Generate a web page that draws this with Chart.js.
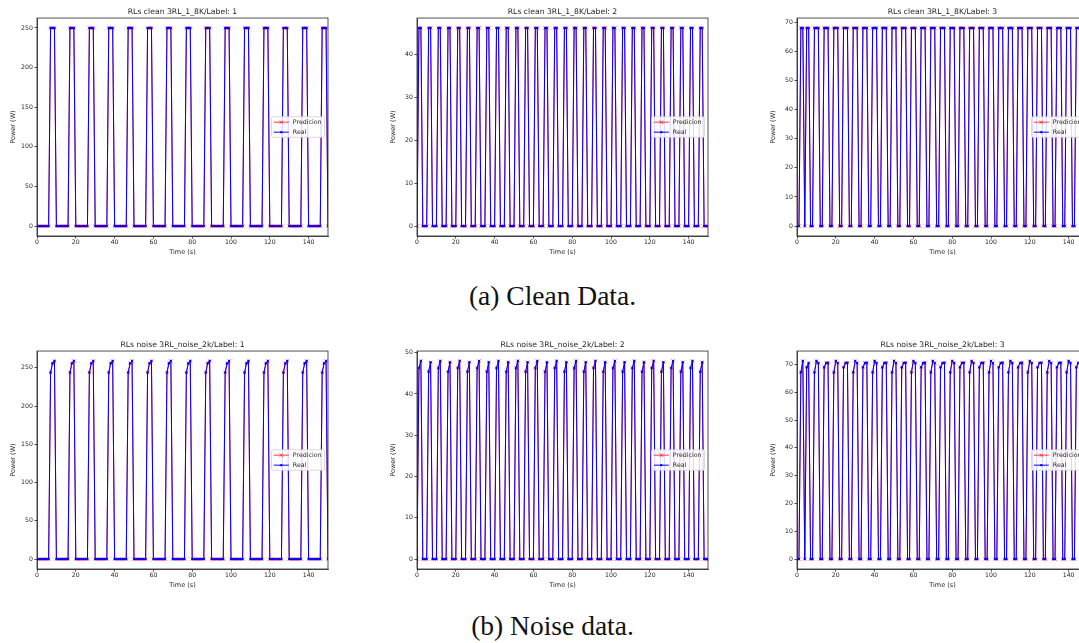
<!DOCTYPE html>
<html>
<head>
<meta charset="utf-8">
<script src="https://cdn.jsdelivr.net/npm/chart.js@4.4.1/dist/chart.umd.min.js"></script>
<style>
  html, body { margin: 0; padding: 0; background: #fff; width: 1079px; height: 643px; overflow: hidden; position: relative; }
  canvas { position: absolute; }
  .cap { position: absolute; left: 13px; width: 1079px; text-align: center;
         font-family: "Liberation Serif", "Times New Roman", serif; font-size: 27.5px; color: #111; }
</style>
</head>
<body>
<canvas id="cleanL1"></canvas>
<canvas id="cleanL2"></canvas>
<canvas id="cleanL3"></canvas>
<canvas id="noiseL1"></canvas>
<canvas id="noiseL2"></canvas>
<canvas id="noiseL3"></canvas>
<div class="cap" style="top:280px">(a) Clean Data.</div>
<div class="cap" style="top:610px">(b) Noise data.</div>
<script>
// ---- data (1 s sampling) ----
const timeS = [
  0,1,2,3,4,5,6,7,8,9, 10,11,12,13,14,15,16,17,18,19,
  20,21,22,23,24,25,26,27,28,29, 30,31,32,33,34,35,36,37,38,39,
  40,41,42,43,44,45,46,47,48,49, 50,51,52,53,54,55,56,57,58,59,
  60,61,62,63,64,65,66,67,68,69, 70,71,72,73,74,75,76,77,78,79,
  80,81,82,83,84,85,86,87,88,89, 90,91,92,93,94,95,96,97,98,99,
  100,101,102,103,104,105,106,107,108,109, 110,111,112,113,114,115,116,117,118,119,
  120,121,122,123,124,125,126,127,128,129, 130,131,132,133,134,135,136,137,138,139,
  140,141,142,143,144,145,146,147,148,149, 150
];
const xTicks = [0, 20, 40, 60, 80, 100, 120, 140];
const yTicksL1 = [0, 50, 100, 150, 200, 250];
const yTicksL2Clean = [0, 10, 20, 30, 40];
const yTicksL2Noise = [0, 10, 20, 30, 40, 50];
const yTicksL3 = [0, 10, 20, 30, 40, 50, 60, 70];
const seriesNames = ['Predicion', 'Real'];

const cleanL1 = [
  0,0,0,0,0,0,0,250,250,250, 0,0,0,0,0,0,0,250,250,250,
  0,0,0,0,0,0,0,250,250,250, 0,0,0,0,0,0,0,250,250,250,
  0,0,0,0,0,0,0,250,250,250, 0,0,0,0,0,0,0,250,250,250,
  0,0,0,0,0,0,0,250,250,250, 0,0,0,0,0,0,0,250,250,250,
  0,0,0,0,0,0,0,250,250,250, 0,0,0,0,0,0,0,250,250,250,
  0,0,0,0,0,0,0,250,250,250, 0,0,0,0,0,0,0,250,250,250,
  0,0,0,0,0,0,0,250,250,250, 0,0,0,0,0,0,0,250,250,250,
  0,0,0,0,0,0,0,250,250,250, 0
];
const cleanL2 = [
  0,46.2,46.2,0,0,0,46.2,46.2,0,0, 0,46.2,46.2,0,0,0,46.2,46.2,0,0,
  0,46.2,46.2,0,0,0,46.2,46.2,0,0, 0,46.2,46.2,0,0,0,46.2,46.2,0,0,
  0,46.2,46.2,0,0,0,46.2,46.2,0,0, 0,46.2,46.2,0,0,0,46.2,46.2,0,0,
  0,46.2,46.2,0,0,0,46.2,46.2,0,0, 0,46.2,46.2,0,0,0,46.2,46.2,0,0,
  0,46.2,46.2,0,0,0,46.2,46.2,0,0, 0,46.2,46.2,0,0,0,46.2,46.2,0,0,
  0,46.2,46.2,0,0,0,46.2,46.2,0,0, 0,46.2,46.2,0,0,0,46.2,46.2,0,0,
  0,46.2,46.2,0,0,0,46.2,46.2,0,0, 0,46.2,46.2,0,0,0,46.2,46.2,0,0,
  0,46.2,46.2,0,0,0,46.2,46.2,0,0, 0
];
const cleanL3 = [
  0,0,68,68,0,68,68,0,0,68, 68,68,0,0,68,68,68,0,0,68,
  68,68,0,0,68,68,68,0,0,68, 68,68,0,0,68,68,68,0,0,68,
  68,68,0,0,68,68,68,0,0,68, 68,68,0,0,68,68,68,0,0,68,
  68,68,0,0,68,68,68,0,0,68, 68,68,0,0,68,68,68,0,0,68,
  68,68,0,0,68,68,68,0,0,68, 68,68,0,0,68,68,68,0,0,68,
  68,68,0,0,68,68,68,0,0,68, 68,68,0,0,68,68,68,0,0,68,
  68,68,0,0,68,68,68,0,0,68, 68,68,0,0,68,68,68,0,0,68,
  68,68,0,0,68,68,68,0,0,68, 0
];
const noiseL1 = [
  0,0,0,0,0,0,0,244,256,259, 0,0,0,0,0,0,0,244,256,259,
  0,0,0,0,0,0,0,244,256,259, 0,0,0,0,0,0,0,244,256,259,
  0,0,0,0,0,0,0,244,256,259, 0,0,0,0,0,0,0,244,256,259,
  0,0,0,0,0,0,0,244,256,259, 0,0,0,0,0,0,0,244,256,259,
  0,0,0,0,0,0,0,244,256,259, 0,0,0,0,0,0,0,244,256,259,
  0,0,0,0,0,0,0,244,256,259, 0,0,0,0,0,0,0,244,256,259,
  0,0,0,0,0,0,0,244,256,259, 0,0,0,0,0,0,0,244,256,259,
  0,0,0,0,0,0,0,244,256,259, 0
];
const noiseL2 = [
  0,46.3,48,0,0,0,45.4,47.7,0,0, 0,46.3,48,0,0,0,45.4,47.7,0,0,
  0,46.3,48,0,0,0,45.4,47.7,0,0, 0,46.3,48,0,0,0,45.4,47.7,0,0,
  0,46.3,48,0,0,0,45.4,47.7,0,0, 0,46.3,48,0,0,0,45.4,47.7,0,0,
  0,46.3,48,0,0,0,45.4,47.7,0,0, 0,46.3,48,0,0,0,45.4,47.7,0,0,
  0,46.3,48,0,0,0,45.4,47.7,0,0, 0,46.3,48,0,0,0,45.4,47.7,0,0,
  0,46.3,48,0,0,0,45.4,47.7,0,0, 0,46.3,48,0,0,0,45.4,47.7,0,0,
  0,46.3,48,0,0,0,45.4,47.7,0,0, 0,46.3,48,0,0,0,45.4,47.7,0,0,
  0,46.3,48,0,0,0,45.4,47.7,0,0, 0
];
const noiseL3 = [
  0,0,67.2,71.2,0,69,70.5,0,0,67.2, 71.2,70.5,0,0,69,70.5,70.6,0,0,67.2,
  71.2,70.5,0,0,69,70.5,70.6,0,0,67.2, 71.2,70.5,0,0,69,70.5,70.6,0,0,67.2,
  71.2,70.5,0,0,69,70.5,70.6,0,0,67.2, 71.2,70.5,0,0,69,70.5,70.6,0,0,67.2,
  71.2,70.5,0,0,69,70.5,70.6,0,0,67.2, 71.2,70.5,0,0,69,70.5,70.6,0,0,67.2,
  71.2,70.5,0,0,69,70.5,70.6,0,0,67.2, 71.2,70.5,0,0,69,70.5,70.6,0,0,67.2,
  71.2,70.5,0,0,69,70.5,70.6,0,0,67.2, 71.2,70.5,0,0,69,70.5,70.6,0,0,67.2,
  71.2,70.5,0,0,69,70.5,70.6,0,0,67.2, 71.2,70.5,0,0,69,70.5,70.6,0,0,67.2,
  71.2,70.5,0,0,69,70.5,70.6,0,0,67.2, 0
];

// ---- layout ----
const AREA_W = 291, AREA_H = 218;
const Y_W = 36, TITLE_H = 18, X_H = 24, PAD_R = 18;
const INK = '#262626';
const FONT = '"DejaVu Sans", sans-serif';

// matplotlib-like frame on all four sides
const framePlugin = {
    id: 'frame',
    afterDatasetsDraw(chart) {
        const a = chart.chartArea, ctx = chart.ctx;
        ctx.save();
        ctx.strokeStyle = INK; ctx.lineWidth = 0.8;
        ctx.strokeRect(a.left, a.top, a.right - a.left, a.bottom - a.top);
        ctx.restore();
    }
};

// legend box at "center right" inside the axes
const boxLegend = {
    id: 'boxLegend',
    afterDraw(chart) {
        const a = chart.chartArea, ctx = chart.ctx;
        const w = 53, h = 20.5;
        const x = a.right - 3.5 - w, y = (a.top + a.bottom) / 2 - h / 2;
        ctx.save();
        ctx.fillStyle = 'rgba(255,255,255,0.85)';
        ctx.strokeStyle = '#d0d0d0'; ctx.lineWidth = 0.8;
        ctx.beginPath(); ctx.roundRect(x, y, w, h, 1.5); ctx.fill(); ctx.stroke();
        chart.data.datasets.forEach((ds, i) => {
            const ly = y + 5.4 + i * 10;
            ctx.strokeStyle = ds.borderColor; ctx.lineWidth = 1;
            ctx.beginPath(); ctx.moveTo(x + 2.3, ly); ctx.lineTo(x + 17.3, ly); ctx.stroke();
            ctx.fillStyle = ds.pointBackgroundColor;
            ctx.strokeStyle = ds.pointBorderColor;
            Chart.helpers.drawPoint(ctx, { pointStyle: ds.pointStyle, radius: ds.pointRadius, borderWidth: ds.pointBorderWidth, rotation: 0 }, x + 9.8, ly);
            ctx.fillStyle = INK; ctx.font = '6.3px ' + FONT; ctx.textBaseline = 'middle';
            ctx.fillText(ds.label, x + 21.3, ly);
        });
        ctx.restore();
    }
};

function makePanel(id, left, top, title, yMin, yMax, yTicks, real, pred) {
    const c = document.getElementById(id);
    c.width = Y_W + AREA_W + PAD_R;
    c.height = TITLE_H + AREA_H + X_H;
    c.style.left = (left - Y_W) + 'px';
    c.style.top = (top - TITLE_H) + 'px';
    const pts = (vals) => timeS.map((t, i) => ({ x: t, y: vals[i] }));
    return new Chart(c.getContext('2d'), {
        type: 'line',
        data: {
            datasets: [
                { label: seriesNames[0], data: pts(pred), order: 1,
                  borderColor: 'rgba(255,20,20,0.85)', borderWidth: 1,
                  pointStyle: 'crossRot', pointRadius: 2.4, pointBorderWidth: 0.8,
                  pointBorderColor: 'rgba(255,40,40,0.8)', pointBackgroundColor: 'rgba(255,40,40,0.8)' },
                { label: seriesNames[1], data: pts(real), order: 0,
                  borderColor: '#0000ff', borderWidth: 1,
                  pointStyle: 'circle', pointRadius: 1.2, pointBorderWidth: 0,
                  pointBorderColor: '#0000ff', pointBackgroundColor: '#0000ff' }
            ]
        },
        options: {
            responsive: false, animation: false, events: [],
            layout: { padding: { left: 0, top: 0, right: PAD_R, bottom: 0 } },
            elements: { line: { tension: 0 } },
            plugins: {
                legend: { display: false }, tooltip: { enabled: false },
                title: { display: true, fullSize: false, text: title, color: INK,
                         font: { family: FONT, size: 7.7, weight: 'normal' },
                         padding: { top: 7.8, bottom: 1 } }
            },
            scales: {
                x: {
                    type: 'linear', min: 0, max: 150,
                    afterBuildTicks: (s) => { s.ticks = xTicks.map(v => ({ value: v })); },
                    afterFit: (s) => { s.height = X_H; },
                    ticks: { color: INK, font: { family: FONT, size: 6.2 }, padding: 0.5, maxRotation: 0 },
                    grid: { display: true, drawOnChartArea: false, drawTicks: true, tickLength: 2.6, color: INK, lineWidth: 0.8 },
                    border: { display: true, color: INK, width: 0.8 },
                    title: { display: true, text: 'Time (s)', color: INK, font: { family: FONT, size: 6.5 }, padding: { top: 0, bottom: 4.2 } }
                },
                y: {
                    type: 'linear', min: yMin, max: yMax,
                    afterBuildTicks: (s) => { s.ticks = yTicks.map(v => ({ value: v })); },
                    afterFit: (s) => { s.width = Y_W; },
                    ticks: { color: INK, font: { family: FONT, size: 6.2 }, padding: 1.5 },
                    grid: { display: true, drawOnChartArea: false, drawTicks: true, tickLength: 2.6, color: INK, lineWidth: 0.8 },
                    border: { display: true, color: INK, width: 0.8 },
                    title: { display: true, text: 'Power (W)', color: INK, font: { family: FONT, size: 6.5 }, padding: { top: 8.3, bottom: 0 } }
                }
            }
        },
        plugins: [framePlugin, boxLegend]
    });
}

makePanel('cleanL1', 37, 18, 'RLs clean 3RL_1_8K/Label: 1', -12.5, 262.5, yTicksL1, cleanL1, cleanL1);
makePanel('cleanL2', 417, 18, 'RLs clean 3RL_1_8K/Label: 2', -2.31, 48.5, yTicksL2Clean, cleanL2, cleanL2);
makePanel('cleanL3', 797, 18, 'RLs clean 3RL_1_8K/Label: 3', -3.4, 71.4, yTicksL3, cleanL3, cleanL3);
makePanel('noiseL1', 37, 351, 'RLs noise 3RL_noise_2k/Label: 1', -12.95, 271.95, yTicksL1, noiseL1, noiseL1);
makePanel('noiseL2', 417, 351, 'RLs noise 3RL_noise_2k/Label: 2', -2.4, 50.4, yTicksL2Noise, noiseL2, noiseL2);
makePanel('noiseL3', 797, 351, 'RLs noise 3RL_noise_2k/Label: 3', -3.56, 74.8, yTicksL3, noiseL3, noiseL3);
</script>
</body>
</html>
